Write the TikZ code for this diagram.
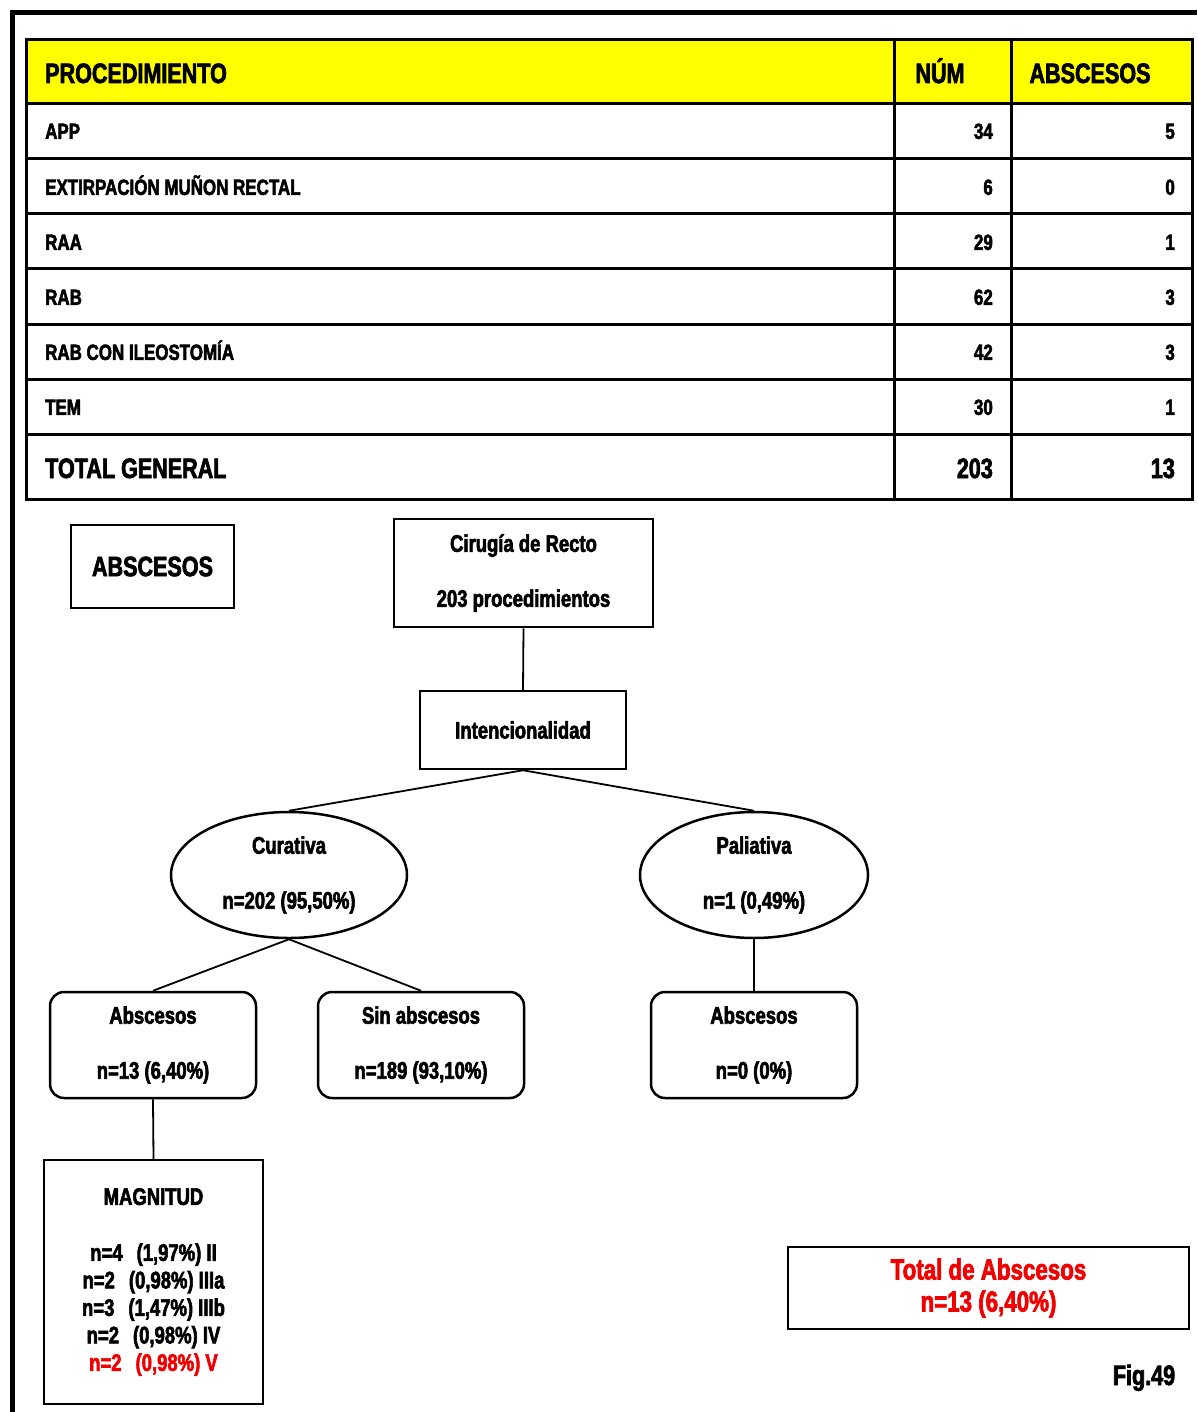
\documentclass[tikz,border=0pt]{standalone}
\usepackage{fontspec}
\setmainfont{Liberation Sans}[FakeStretch=0.77, FakeBold=2.4,
  BoldFont={Liberation Sans Bold}, BoldFeatures={FakeStretch=0.77, FakeBold=2.4}]
\usetikzlibrary{shapes.geometric}
\definecolor{hdryellow}{RGB}{255,255,0}
\definecolor{alertred}{RGB}{240,0,0}
\newcommand\fsz[2]{\fontsize{#1}{#2}\selectfont\bfseries}

\begin{document}
\begin{tikzpicture}[x=1pt,y=-1pt,
  cell/.style={inner sep=0pt, text height=15.8pt, text depth=0pt, font=\fsz{22}{26}},
  hcell/.style={inner sep=0pt, text height=20pt, text depth=0pt, font=\fsz{28}{30}},
  box/.style={draw, line width=2.5pt, rectangle, inner sep=0pt, align=center, font=\fsz{24}{55}},
  rbox/.style={box, rounded corners=14pt},
  oval/.style={draw, line width=2.5pt, ellipse, inner sep=0pt, align=center, font=\fsz{24}{55}},
  link/.style={line width=1.8pt}]
\useasboundingbox (0,0) rectangle (1197,1412);

% page frame (top and left rules)
\draw[line width=5pt] (1197,13) -- (12,13) -- (12,1412);

% ---------- table ----------
\fill[hdryellow] (26,40) rectangle (1192,104);
\draw[line width=3pt] (26,40) rectangle (1192,499);
\foreach \y in {104,159,214,269,324,379,434}
  \draw[line width=3pt] (26,\y) -- (1192,\y);
\draw[line width=3pt] (894,40) -- (894,499);
\draw[line width=3pt] (1011,40) -- (1011,499);

\node[hcell, anchor=west] (hproc) at (45,73) {PROCEDIMIENTO};
\node[hcell] (hnum) at (940,73) {NÚM};
\node[hcell] (habs) at (1090,73) {ABSCESOS};

\node[cell, anchor=west] (p1) at (45,131) {APP};
\node[cell, anchor=east] (n1) at (993,131) {34};
\node[cell, anchor=east] (a1) at (1175,131) {5};

\node[cell, anchor=west] (p2) at (45,187) {EXTIRPACIÓN MUÑON RECTAL};
\node[cell, anchor=east] (n2) at (993,187) {6};
\node[cell, anchor=east] (a2) at (1175,187) {0};

\node[cell, anchor=west] (p3) at (45,242) {RAA};
\node[cell, anchor=east] (n3) at (993,242) {29};
\node[cell, anchor=east] (a3) at (1175,242) {1};

\node[cell, anchor=west] (p4) at (45,297) {RAB};
\node[cell, anchor=east] (n4) at (993,297) {62};
\node[cell, anchor=east] (a4) at (1175,297) {3};

\node[cell, anchor=west] (p5) at (45,352) {RAB CON ILEOSTOMÍA};
\node[cell, anchor=east] (n5) at (993,352) {42};
\node[cell, anchor=east] (a5) at (1175,352) {3};

\node[cell, anchor=west] (p6) at (45,407) {TEM};
\node[cell, anchor=east] (n6) at (993,407) {30};
\node[cell, anchor=east] (a6) at (1175,407) {1};

\node[hcell, anchor=west] (ptot) at (45,468) {TOTAL GENERAL};
\node[hcell, anchor=east] (ntot) at (993,468) {203};
\node[hcell, anchor=east] (atot) at (1175,468) {13};

% ---------- tree ----------
\node[box, minimum width=163, minimum height=83, font=\fsz{28}{30}] (title) at (152.5,566.5) {ABSCESOS};

\node[box, minimum width=259, minimum height=108] (cir) at (523.5,573) {Cirugía de Recto\\203 procedimientos};
\node[box, minimum width=206, minimum height=78] (int) at (523,730) {Intencionalidad};

\node[oval, minimum width=236, minimum height=126] (cur) at (289,875) {Curativa\\n=202 (95,50\%)};
\node[oval, minimum width=228, minimum height=126] (pal) at (754,875) {Paliativa\\n=1 (0,49\%)};

\node[rbox, minimum width=206, minimum height=106] (abs) at (153,1045) {Abscesos\\n=13 (6,40\%)};
\node[rbox, minimum width=206, minimum height=106] (sin) at (421,1045) {Sin abscesos\\n=189 (93,10\%)};
\node[rbox, minimum width=206, minimum height=106] (abp) at (754,1045) {Abscesos\\n=0 (0\%)};

\node[box, minimum width=219, minimum height=244, font=\fsz{24}{27.5}] (mag) at (153.5,1282)
  {MAGNITUD\\[28.5pt]
   n=4\hspace{14pt}(1,97\%) II\\
   n=2\hspace{14pt}(0,98\%) IIIa\\
   n=3\hspace{14pt}(1,47\%) IIIb\\
   n=2\hspace{14pt}(0,98\%) IV\\
   \textcolor{alertred}{n=2\hspace{14pt}(0,98\%) V}};

\node[box, minimum width=401, minimum height=82, text=alertred, font=\fsz{29}{32}] (tot) at (988.5,1288)
  {Total de Abscesos\\n=13 (6,40\%)};

\node[inner sep=0pt, text height=20pt, text depth=0pt, font=\fsz{28}{30}] (fig) at (1144,1375) {Fig.49};

\draw[link] (cir.south) -- (int.north);
\draw[link] (int.south) -- (cur.north);
\draw[link] (int.south) -- (pal.north);
\draw[link] (cur.south) -- (abs.north);
\draw[link] (cur.south) -- (sin.north);
\draw[link] (pal.south) -- (abp.north);
\draw[link] (abs.south) -- (mag.north);
\end{tikzpicture}
\end{document}
